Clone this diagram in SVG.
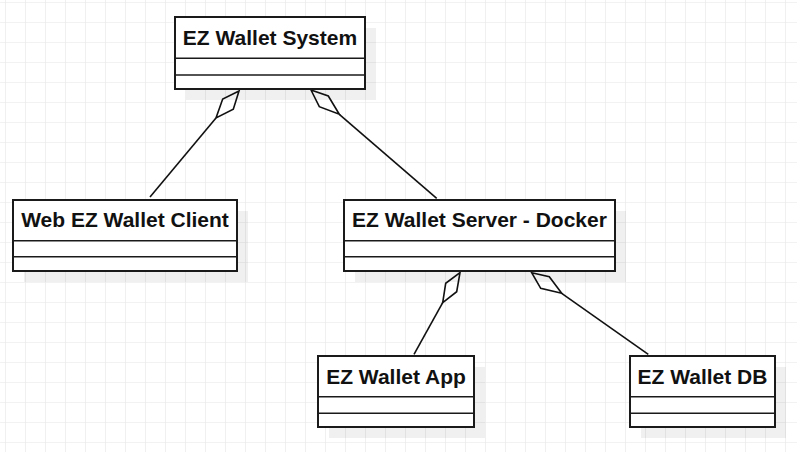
<svg xmlns="http://www.w3.org/2000/svg" width="797" height="452" viewBox="0 0 797 452">
<defs>
<pattern id="grid" x="5" y="2" width="20" height="20" patternUnits="userSpaceOnUse">
<path d="M0 0H20M0 0V20" fill="none" stroke="#e6e6e6" stroke-width="1.2"/>
</pattern>
<style>
.shadow{fill:#000;opacity:0.06}
.box{fill:#fff;stroke:#1a1a1a;stroke-width:2}
.div{stroke:#1a1a1a;stroke-width:1.6}
.lbl{font-family:"Liberation Sans",Arial,sans-serif;font-weight:bold;font-size:21px;fill:#111;text-anchor:middle}
.con{fill:none;stroke:#111;stroke-width:1.6}
.dia{fill:#fff;stroke:#111;stroke-width:1.6;stroke-linejoin:miter}
</style>
</defs>
<rect width="797" height="452" fill="#fff"/>
<rect width="797" height="452" fill="url(#grid)"/>

<g id="connectors">
<line class="con" x1="150" y1="197" x2="216" y2="118"/>
<polygon class="dia" points="239,91 222.7,99 216,118 233.3,109.3"/>
<line class="con" x1="339.3" y1="114.3" x2="436.7" y2="198.3"/>
<polygon class="dia" points="311,90 328.3,96 339.3,114.3 319.3,106.7"/>
<line class="con" x1="442.7" y1="302.7" x2="414" y2="354.3"/>
<polygon class="dia" points="460,272.7 456.7,291.7 442.7,302.7 445.7,283.3"/>
<line class="con" x1="561.7" y1="293.3" x2="648.3" y2="354.3"/>
<polygon class="dia" points="531.7,272.7 549.3,276.7 561.7,293.3 540.7,288.3"/>
</g>

<g id="ez-wallet-system">
<rect class="shadow" x="186" y="28" width="190" height="72"/>
<rect class="box" x="175" y="17" width="190" height="72"/>
<line class="div" x1="175" y1="58.3" x2="365" y2="58.3"/>
<line class="div" x1="175" y1="75" x2="365" y2="75"/>
<text class="lbl" x="270" y="45">EZ Wallet System</text>
</g>

<g id="web-client">
<rect class="shadow" x="24" y="211" width="224" height="71"/>
<rect class="box" x="13" y="200" width="224" height="71"/>
<line class="div" x1="13" y1="240.7" x2="237" y2="240.7"/>
<line class="div" x1="13" y1="256.7" x2="237" y2="256.7"/>
<text class="lbl" x="125" y="226.7">Web EZ Wallet Client</text>
</g>

<g id="server-docker">
<rect class="shadow" x="355" y="211" width="271" height="71"/>
<rect class="box" x="344" y="200" width="271" height="71"/>
<line class="div" x1="344" y1="240.7" x2="615" y2="240.7"/>
<line class="div" x1="344" y1="256.7" x2="615" y2="256.7"/>
<text class="lbl" x="479.5" y="226.7">EZ Wallet Server - Docker</text>
</g>

<g id="wallet-app">
<rect class="shadow" x="329" y="367" width="156" height="71"/>
<rect class="box" x="318" y="356" width="156" height="71"/>
<line class="div" x1="318" y1="396.7" x2="474" y2="396.7"/>
<line class="div" x1="318" y1="413.3" x2="474" y2="413.3"/>
<text class="lbl" x="396" y="384">EZ Wallet App</text>
</g>

<g id="wallet-db">
<rect class="shadow" x="641" y="367" width="145" height="71"/>
<rect class="box" x="630" y="356" width="145" height="71"/>
<line class="div" x1="630" y1="396.7" x2="775" y2="396.7"/>
<line class="div" x1="630" y1="413.3" x2="775" y2="413.3"/>
<text class="lbl" x="702.5" y="384">EZ Wallet DB</text>
</g>
</svg>
